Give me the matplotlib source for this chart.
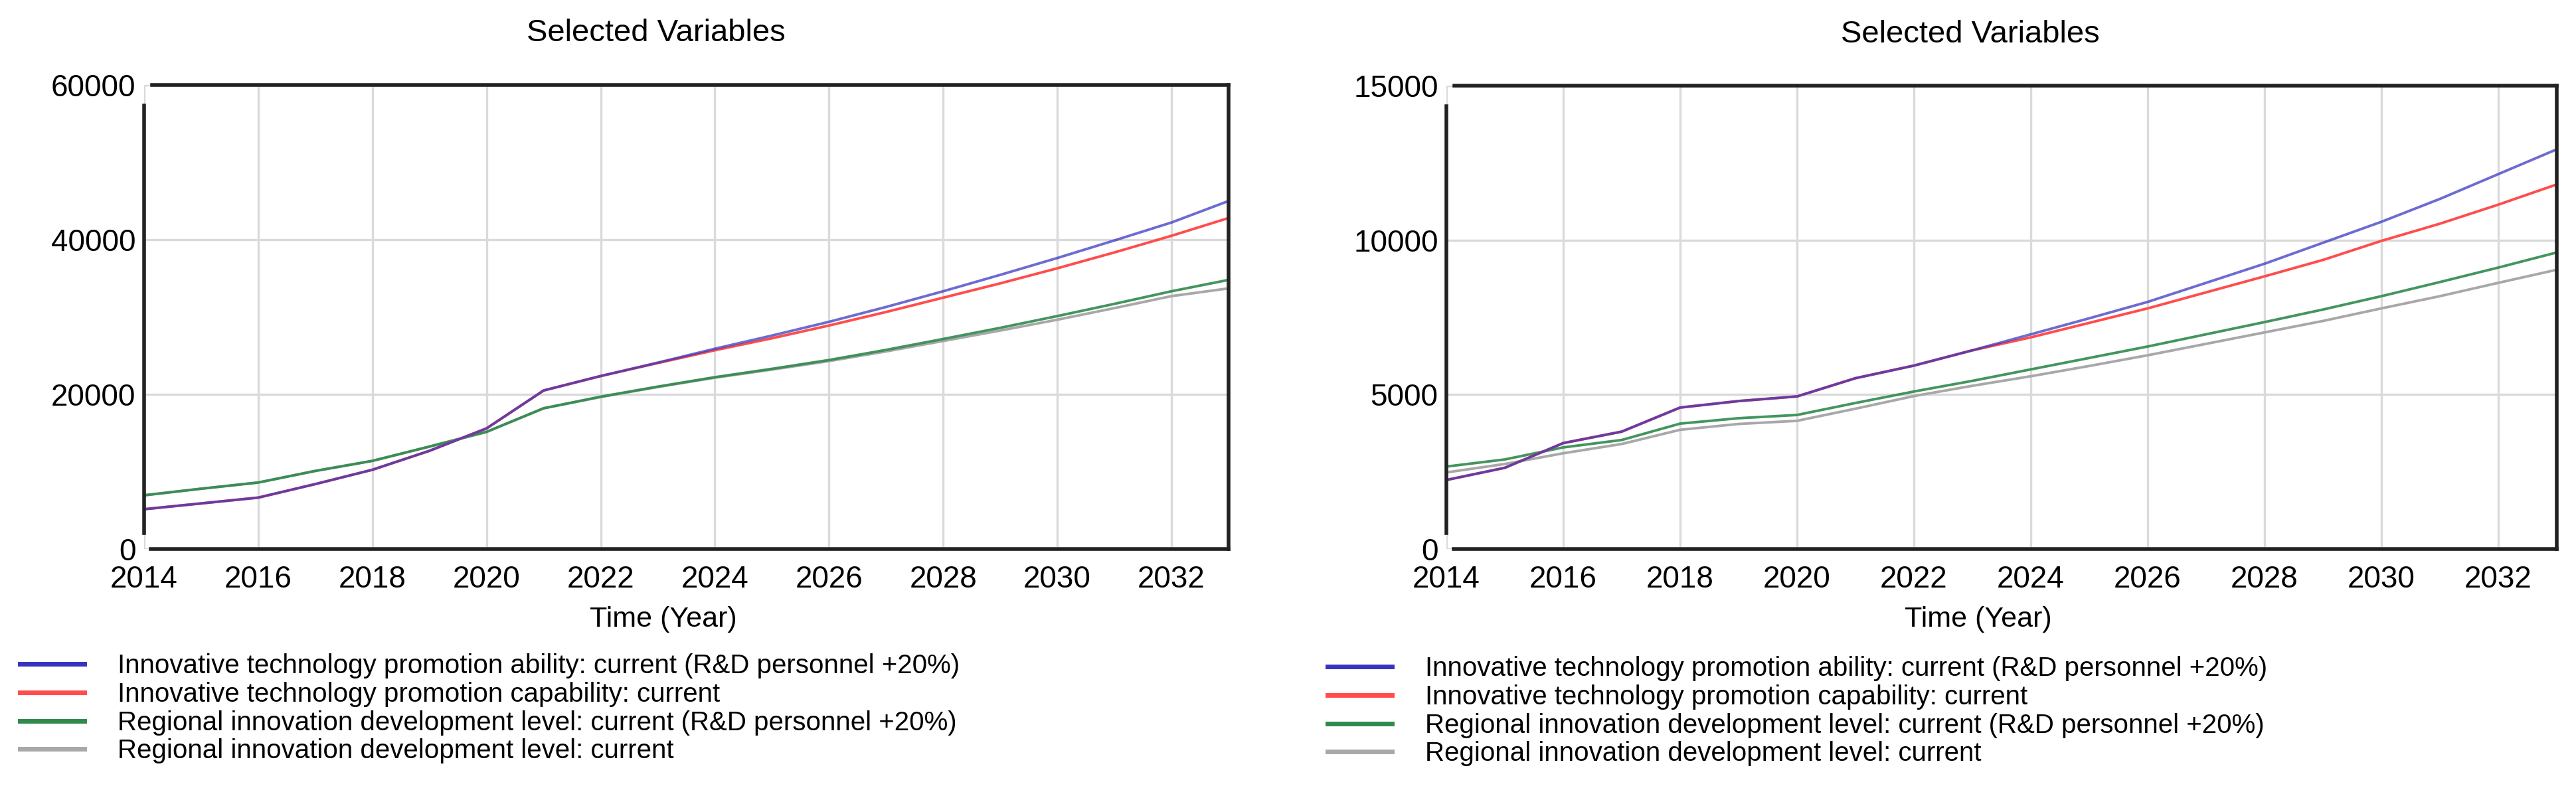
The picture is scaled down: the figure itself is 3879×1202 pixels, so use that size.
import matplotlib
matplotlib.use('Agg')
import matplotlib.pyplot as plt

plt.rcParams['font.family'] = ['Liberation Sans', 'DejaVu Sans']

years = list(range(2014, 2034))
xticks = list(range(2014, 2033, 2))

labels = ['Innovative technology promotion ability: current (R&D personnel +20%)',
          'Innovative technology promotion capability: current',
          'Regional innovation development level: current (R&D personnel +20%)',
          'Regional innovation development level: current']

# left panel
left_blue = [5150, 5900, 6650, 8400, 10250, 12700, 15600, 20500, 22370, 24100,
             25900, 27600, 29380, 31300, 33330, 35450, 37630, 39900, 42220, 45000]
left_red = [5150, 5900, 6650, 8400, 10250, 12700, 15600, 20500, 22370, 24050,
            25700, 27250, 28900, 30650, 32500, 34350, 36300, 38350, 40500, 42800]
left_green = [6950, 7800, 8600, 10100, 11400, 13250, 15150, 18200, 19700, 21000,
              22220, 23300, 24440, 25750, 27160, 28600, 30120, 31700, 33330, 34800]
left_gray = [6950, 7800, 8600, 10100, 11400, 13250, 15150, 18200, 19650, 20950,
             22150, 23200, 24300, 25550, 26900, 28250, 29650, 31150, 32700, 33700]
left_yticks = [0, 20000, 40000, 60000]

# right panel
right_blue = [2235, 2630, 3430, 3800, 4580, 4790, 4940, 5530, 5938, 6432,
              6950, 7469, 8000, 8617, 9235, 9914, 10593, 11333, 12136, 12938]
right_red = [2235, 2630, 3430, 3800, 4580, 4790, 4940, 5530, 5938, 6432,
             6852, 7321, 7790, 8309, 8827, 9358, 9975, 10531, 11148, 11802]
right_green = [2670, 2900, 3290, 3530, 4060, 4235, 4340, 4728, 5099, 5444,
               5815, 6185, 6556, 6951, 7346, 7753, 8185, 8642, 9111, 9600]
right_gray = [2480, 2753, 3100, 3400, 3860, 4049, 4150, 4543, 4951, 5284,
              5593, 5926, 6272, 6642, 7012, 7383, 7790, 8185, 8617, 9040]
right_yticks = [0, 5000, 10000, 15000]

BLUE, RED, GREEN, GRAY = '#3434c0', '#ff4d4d', '#2f8a4c', '#a8a8a8'
W, H = 3879, 1202


def panel(ax, blue, red, green, gray, yticks):
    "Draw one Vensim-style panel."
    ymax = yticks[-1]
    # gray first so green covers it, red under a translucent blue -> purple overlap
    l4, = ax.plot(years, gray, color=GRAY, lw=2.8, zorder=3)
    l3, = ax.plot(years, green, color=GREEN, lw=2.8, alpha=0.9, zorder=4)
    l2, = ax.plot(years, red, color=RED, lw=2.8, zorder=5)
    l1, = ax.plot(years, blue, color=BLUE, lw=2.8, alpha=0.72, zorder=6)
    ax.set_xlim(years[0], years[-1])
    ax.set_ylim(0, ymax)
    ax.set_xticks(xticks)
    ax.set_yticks(yticks)
    ax.tick_params(length=0, labelsize=33)
    ax.tick_params(axis='x', pad=17)
    ax.tick_params(axis='y', pad=9)
    ax.grid(True, color='#dadada', lw=2.4, zorder=1)
    # detached frame lines
    for s in ax.spines.values():
        s.set_linewidth(4)
        s.set_color('#222222')
        s.set_zorder(7)
    ax.spines['left'].set_bounds(0.035 * ymax, 0.955 * ymax)
    ax.spines['top'].set_bounds(years[0] + 0.14, years[-1])
    ax.spines['bottom'].set_bounds(years[0] + 0.12, years[-1])
    ax.text(0.472, 1.111, 'Selected Variables', transform=ax.transAxes,
            ha='center', va='center', fontsize=34)
    ax.text(0.479, -0.152, 'Time (Year)', transform=ax.transAxes,
            ha='center', va='center', fontsize=31)
    return [l1, l2, l3, l4]


fig = plt.figure(figsize=(W / 100, H / 100), dpi=100)
ax1 = fig.add_axes([217 / W, 1 - 827 / H, 1633 / W, 699 / H])
ax2 = fig.add_axes([2178 / W, 1 - 827 / H, 1672 / W, 698 / H])

h1 = panel(ax1, left_blue, left_red, left_green, left_gray, left_yticks)
h2 = panel(ax2, right_blue, right_red, right_green, right_gray, right_yticks)

for ax, hs, x0, ytop in [(ax1, h1, 30, 984), (ax2, h2, 1999, 988)]:
    leg = ax.legend(hs, labels, loc='upper left', bbox_to_anchor=(x0 / W, 1 - ytop / H),
                    bbox_transform=fig.transFigure, frameon=False, fontsize=29,
                    handlelength=2.4, handletextpad=1.25, labelspacing=0.12,
                    borderpad=0, borderaxespad=0)
    for ln in leg.get_lines():
        ln.set_linewidth(5)
        ln.set_alpha(1)

fig.savefig('out.png', dpi=100, facecolor='white')
